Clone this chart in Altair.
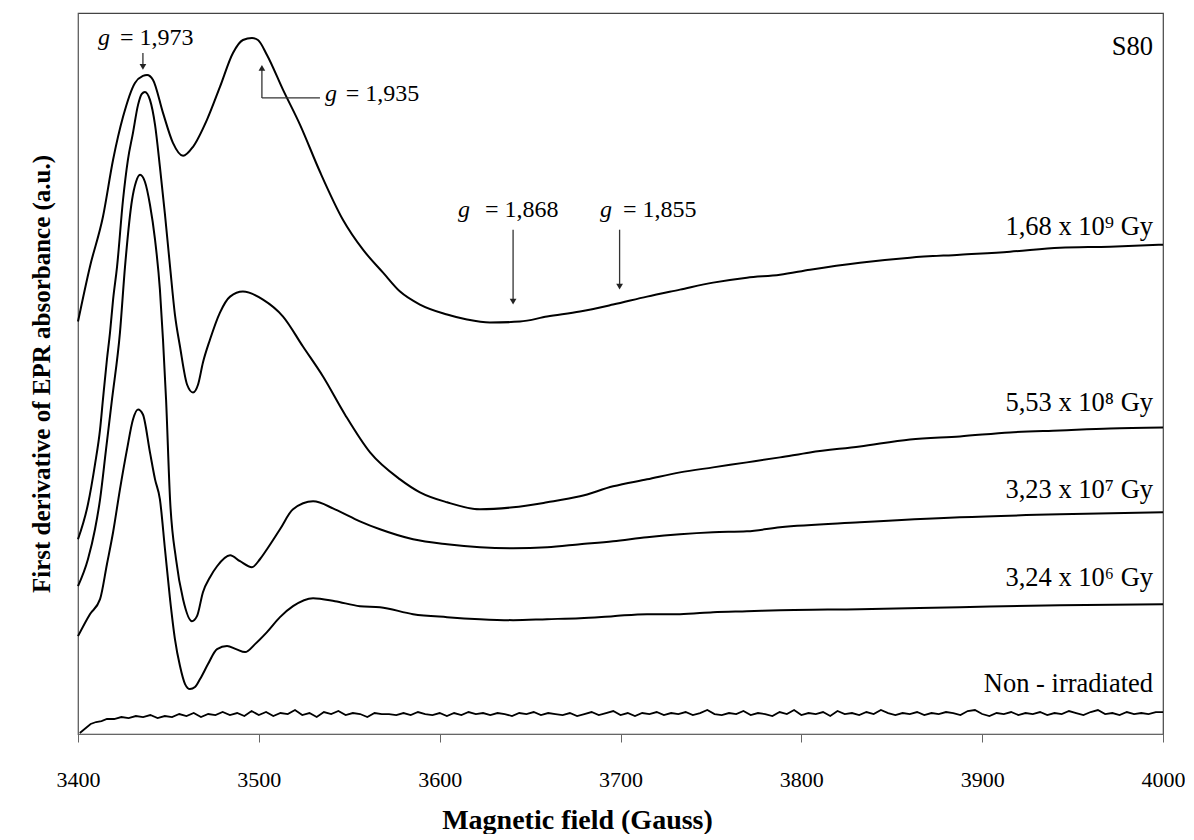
import altair as alt
import pandas as pd

# ---------------- data ----------------
series_names = ["1,68 x 10⁹ Gy", "5,53 x 10⁸ Gy", "3,23 x 10⁷ Gy", "3,24 x 10⁶ Gy", "Non - irradiated"]

c1_x = [3400.0, 3406.6, 3413.8, 3419.4, 3424.9, 3431.5, 3435.9, 3438.2, 3441.5, 3447.0, 3452.5, 3458.1,
        3463.6, 3471.3, 3478.5, 3485.7, 3491.2, 3496.2, 3499.5, 3504.5, 3513.4, 3522.8, 3533.8, 3546.5,
        3557.6, 3568.7, 3578.1, 3589.1, 3604.1, 3615.1, 3627.8, 3644.4, 3659.4, 3677.6, 3695.9, 3714.7,
        3732.9, 3751.2, 3769.9, 3788.2, 3804.8, 3832.4, 3860.1, 3887.7, 3915.4, 3943.0, 3970.7, 4000.0]
c1_y = [413, 468, 518, 575, 618, 652, 659, 660, 655, 622, 592, 579,
        588, 615, 648, 682, 695, 697, 695, 680, 645, 610, 563, 515,
        485, 462, 443, 430, 420, 415, 412, 413, 418, 423, 430, 438,
        445, 452, 457, 460, 465, 472, 477, 480, 483, 487, 488, 490]

c2_x = [3400.0, 3405.5, 3409.4, 3412.2, 3413.8, 3416.0, 3417.7, 3419.4, 3421.6, 3424.9, 3427.6, 3430.4,
        3433.2, 3435.3, 3437.0, 3439.8, 3442.6, 3445.3, 3448.1, 3450.9, 3453.6, 3456.4, 3460.3, 3463.6,
        3466.4, 3469.1, 3473.0, 3478.5, 3484.1, 3491.2, 3502.3, 3513.4, 3524.4, 3535.5, 3547.6, 3561.5,
        3578.1, 3589.1, 3604.1, 3622.3, 3640.6, 3659.4, 3677.6, 3695.9, 3714.7, 3732.9, 3751.2, 3769.9,
        3788.2, 3804.8, 3832.4, 3860.1, 3887.7, 3915.4, 3943.0, 3970.7, 4000.0]
c2_y = [195, 230, 270, 305, 335, 375, 402, 435, 468, 535, 575, 602,
        630, 641, 643, 635, 610, 568, 520, 468, 420, 388, 350, 342,
        350, 372, 395, 422, 438, 443, 435, 418, 388, 358, 320, 282,
        255, 242, 232, 225, 227, 232, 238, 248, 255, 262, 267, 272,
        277, 282, 288, 295, 298, 302, 304, 306, 307]

c3_x = [3400.0, 3405.5, 3409.4, 3412.2, 3415.5, 3418.8, 3423.2, 3426.0, 3429.9, 3432.1, 3434.3, 3437.0,
        3439.8, 3442.6, 3445.3, 3447.0, 3448.7, 3450.9, 3454.2, 3458.1, 3463.0, 3465.8, 3469.1, 3473.0,
        3476.9, 3484.1, 3489.6, 3496.2, 3500.6, 3504.5, 3511.7, 3518.9, 3530.0, 3542.1, 3555.9, 3567.0,
        3585.3, 3604.1, 3622.3, 3640.6, 3659.4, 3677.6, 3695.9, 3714.7, 3732.9, 3751.2, 3769.9, 3788.2,
        3832.4, 3887.7, 3943.0, 4000.0]
c3_y = [148, 175, 205, 235, 285, 335, 402, 468, 535, 553, 560, 553,
        530, 495, 445, 395, 335, 235, 175, 135, 113, 118, 142, 157,
        168, 179, 173, 167, 175, 185, 205, 225, 233, 225, 213, 205,
        195, 190, 187, 186, 187, 190, 193, 197, 200, 202, 203, 207,
        212, 217, 220, 222]

c4_x = [3400.0, 3406.6, 3412.2, 3416.0, 3419.4, 3423.2, 3427.1, 3430.4, 3433.2, 3435.9, 3439.8, 3442.6,
        3445.3, 3448.1, 3450.9, 3453.6, 3456.4, 3459.2, 3461.9, 3464.7, 3467.5, 3471.9, 3476.9, 3482.4,
        3487.4, 3492.4, 3497.9, 3504.5, 3511.7, 3518.9, 3530.0, 3542.1, 3555.9, 3567.0, 3585.3, 3604.1,
        3622.3, 3640.6, 3659.4, 3677.6, 3695.9, 3714.7, 3732.9, 3751.2, 3769.9, 3788.2, 3832.4, 3887.7,
        3943.0, 4000.0]
c4_y = [98, 120, 135, 170, 202, 245, 285, 315, 325, 320, 282, 255,
        235, 185, 135, 95, 68, 50, 45, 47, 55, 70, 85, 88,
        85, 82, 90, 102, 117, 128, 136, 133, 128, 127, 120, 117,
        115, 114, 115, 116, 118, 120, 120, 122, 123, 124, 125, 127,
        129, 130]

c5_x = [3401, 3403, 3405, 3407, 3410, 3413, 3416, 3420, 3424, 3428, 3432, 3436, 3440, 3444, 3448, 3452,
        3456, 3460, 3464, 3468, 3472, 3476, 3480, 3484, 3488, 3492, 3496, 3500, 3504, 3508, 3512, 3516,
        3520, 3524, 3528, 3532, 3536, 3540, 3544, 3548, 3552, 3556, 3560, 3564, 3568, 3572, 3576, 3580,
        3584, 3588, 3592, 3596, 3600, 3604, 3608, 3612, 3616, 3620, 3624, 3628, 3632, 3636, 3640, 3644,
        3648, 3652, 3656, 3660, 3664, 3668, 3672, 3676, 3680, 3684, 3688, 3692, 3696, 3700, 3704, 3708,
        3712, 3716, 3720, 3724, 3728, 3732, 3736, 3740, 3744, 3748, 3752, 3756, 3760, 3764, 3768, 3772,
        3776, 3780, 3784, 3788, 3792, 3796, 3800, 3804, 3808, 3812, 3816, 3820, 3824, 3828, 3832, 3836,
        3840, 3844, 3848, 3852, 3856, 3860, 3864, 3868, 3872, 3876, 3880, 3884, 3888, 3892, 3896, 3900,
        3904, 3908, 3912, 3916, 3920, 3924, 3928, 3932, 3936, 3940, 3944, 3948, 3952, 3956, 3960, 3964,
        3968, 3972, 3976, 3980, 3984, 3988, 3992, 3996, 4000]
c5_y = [1, 4, 7, 10, 12, 13, 15, 15, 17, 16, 18, 17, 19, 16, 18, 17,
        20, 18, 21, 17, 20, 19, 22, 19, 21, 18, 23, 19, 22, 18, 21, 20,
        24, 19, 21, 17, 22, 20, 23, 19, 21, 20, 17, 21, 20, 20, 19, 21,
        19, 22, 20, 19, 21, 18, 21, 19, 22, 20, 21, 19, 21, 20, 18, 21,
        20, 22, 19, 21, 20, 19, 21, 18, 20, 22, 19, 21, 23, 19, 21, 18,
        21, 20, 22, 19, 21, 20, 22, 19, 21, 24, 20, 19, 21, 20, 23, 19,
        21, 20, 18, 22, 20, 24, 19, 21, 20, 22, 18, 23, 20, 21, 19, 22,
        20, 24, 21, 19, 21, 20, 22, 19, 21, 20, 22, 21, 19, 23, 24, 20,
        18, 21, 20, 22, 19, 21, 20, 22, 19, 21, 20, 23, 21, 19, 22, 24,
        20, 21, 19, 22, 20, 21, 20, 22, 22]

x_ticks = [3400, 3500, 3600, 3700, 3800, 3900, 4000]

# curve labels (right aligned)
label_text = ["1,68 x 10⁹ Gy", "5,53 x 10⁸ Gy", "3,23 x 10⁷ Gy", "3,24 x 10⁶ Gy", "Non - irradiated", "S80"]
label_x = [3994.5, 3994.5, 3994.5, 3994.5, 3994.5, 3994.5]
label_y = [508, 331, 244, 156, 50, 688]

# g-value annotations
g_x = [3414.4, 3539.9, 3613.5, 3692.0]
g_y = [697, 641, 525, 525]
gval_text = ["= 1,973", "= 1,935", "= 1,868", "= 1,855"]
gval_x = [3423.2, 3548.0, 3625.1, 3701.4]
gval_y = [697, 641, 525, 525]

# arrows
arrow_x = [3435.9, 3501.7, 3501.7, 3640.6, 3699.5]
arrow_x2 = [3435.9, 3501.7, 3533.8, 3640.6, 3699.5]
arrow_y = [682, 637, 637, 505, 505]
arrow_y2 = [670, 665, 637, 435, 450]
head_x = [3435.9, 3501.7, 3640.6, 3699.5]
head_y = [668, 667, 433, 448]
head_shape = ["triangle-down", "triangle-up", "triangle-down", "triangle-down"]

# ---------------- build tables ----------------
rows = []
for name, xs, ys in zip(series_names, [c1_x, c2_x, c3_x, c4_x, c5_x], [c1_y, c2_y, c3_y, c4_y, c5_y]):
    for i, (xv, yv) in enumerate(zip(xs, ys)):
        rows.append({"series": name, "field": xv, "value": yv, "i": i})
curves = pd.DataFrame(rows)
smooth = curves[curves["series"] != "Non - irradiated"]
noisy = curves[curves["series"] == "Non - irradiated"]

labels = pd.DataFrame({"x": label_x, "y": label_y, "t": label_text})
gdf = pd.DataFrame({"x": g_x, "y": g_y, "t": ["g"] * 4})
gv = pd.DataFrame({"x": gval_x, "y": gval_y, "t": gval_text})
arrows = pd.DataFrame({"x": arrow_x, "x2": arrow_x2, "y": arrow_y, "y2": arrow_y2})
heads = pd.DataFrame({"x": head_x, "y": head_y, "s": head_shape})

FONT = "Liberation Serif"

xscale = alt.Scale(domain=[3400, 4000], nice=False, zero=False)
yscale = alt.Scale(domain=[0, 722], nice=False, zero=False)

xaxis = alt.Axis(values=x_ticks, grid=False, tickSize=8, tickColor="#666", domainColor="#666",
                 labelFont=FONT, labelFontSize=22, labelColor="black", labelPadding=27,
                 labelFlush=False, labelOverlap=False,
                 title="Magnetic field (Gauss)", titleFont=FONT, titleFontSize=28,
                 titleFontWeight="bold", titleColor="black", titleX=499, titleY=86,
                 titleAlign="center", titleBaseline="middle", format="d")
yaxis = alt.Axis(labels=False, ticks=False, grid=False, domainColor="#666",
                 title="First derivative of EPR absorbance (a.u.)", titleFont=FONT,
                 titleFontSize=25, titleFontWeight="bold", titleColor="black", titlePadding=24)

base_x = alt.X("field:Q", scale=xscale, axis=xaxis)
base_y = alt.Y("value:Q", scale=yscale, axis=yaxis)

lines = alt.Chart(smooth).mark_line(color="black", strokeWidth=2, interpolate="monotone").encode(
    x=base_x, y=base_y, detail="series:N", order="i:Q"
)
noise_line = alt.Chart(noisy).mark_line(color="black", strokeWidth=1.8).encode(
    x=alt.X("field:Q", scale=xscale), y=alt.Y("value:Q", scale=yscale), order="i:Q"
)

def xq(f):
    return alt.X(f, type="quantitative", scale=xscale)

def yq(f):
    return alt.Y(f, type="quantitative", scale=yscale)

lbl = alt.Chart(labels).mark_text(font=FONT, fontSize=26.5, align="right", baseline="middle",
                                   color="black").encode(x=xq("x"), y=yq("y"), text="t:N")
gtxt = alt.Chart(gdf).mark_text(font=FONT, fontSize=24, fontStyle="italic", align="center",
                                 baseline="middle", color="black").encode(x=xq("x"), y=yq("y"), text="t:N")
gvtxt = alt.Chart(gv).mark_text(font=FONT, fontSize=24, align="left", baseline="middle",
                                 color="black").encode(x=xq("x"), y=yq("y"), text="t:N")
arr = alt.Chart(arrows).mark_rule(color="#333", strokeWidth=1.3).encode(
    x=xq("x"), x2="x2:Q", y=yq("y"), y2="y2:Q")
hd = alt.Chart(heads).mark_point(filled=True, color="#222", size=45, opacity=1).encode(
    x=xq("x"), y=yq("y"),
    shape=alt.Shape("s:N", scale=None, legend=None))

chart = alt.layer(lines, noise_line, arr, hd, lbl, gtxt, gvtxt).properties(
    width=1085, height=721,
    autosize=alt.AutoSizeParams(type="none"),
    padding={"left": 70, "top": 5, "right": 22, "bottom": 100},
    background="white",
).configure_view(stroke="#444", strokeWidth=1.2)

chart.save("out.html", embed_options={"renderer": "svg", "actions": False})
